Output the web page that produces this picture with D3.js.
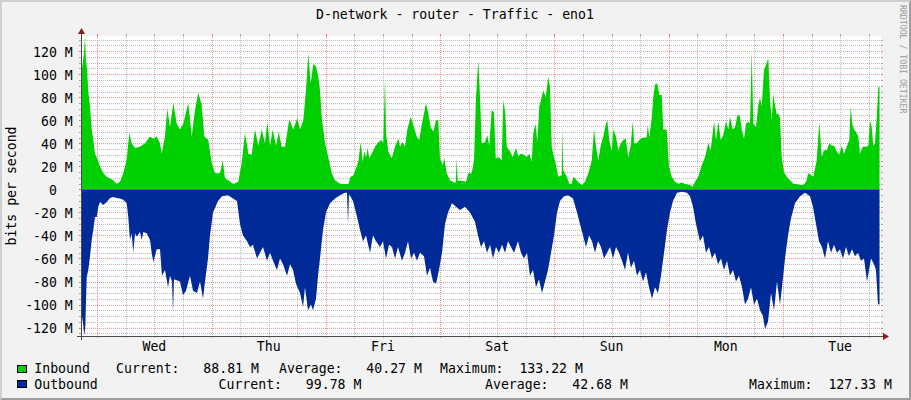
<!DOCTYPE html>
<html><head><meta charset="utf-8">
<script src="https://cdn.jsdelivr.net/npm/d3@7"></script>
<style>
html,body{margin:0;padding:0;background:#F2F2F2;}
svg{display:block;}
text{font-family:"DejaVu Sans Mono",monospace;white-space:pre;}
</style>
</head><body>
<svg id="c" width="911" height="400"></svg>
<script>
// ---------- data ----------
const title = "D-network - router - Traffic - eno1";
const yAxisTitle = "bits per second";
const watermark = "RRDTOOL / TOBI OETIKER";
const dayLabels = ["Wed","Thu","Fri","Sat","Sun","Mon","Tue"];
const yTickValues = [-120,-100,-80,-60,-40,-20,0,20,40,60,80,100,120];
const yTickLabels = ["-120 M","-100 M","-80 M","-60 M","-40 M","-20 M","0","20 M","40 M","60 M","80 M","100 M","120 M"];
const seriesNames = ["Inbound","Outbound"];
const seriesColors = ["#00CF00","#002A97"];
const statLabels = ["Current:","Average:","Maximum:"];
const inboundStats = [88.81, 40.27, 133.22];
const outboundStats = [99.78, 42.68, 127.33];
// [hours since Tue 20:35, Mbit/s]
const inbound = [[0,89],[0.21,105],[0.42,112],[0.63,118],[0.84,133],[1.05,112],[1.26,105],[1.53,85],[1.89,72],[2.25,52],[2.58,43],[2.94,31],[3.30,28],[3.63,24],[3.99,20],[4.68,14],[5.40,11],[6.09,9.5],[6.78,8],[7.50,5],[8.19,6.7],[8.88,14],[9.60,26],[10.14,49],[10.65,40],[11.34,36],[12.39,37],[13.44,40],[14.49,46],[15.18,44],[15.90,46],[16.59,40],[16.95,31],[17.64,46],[18.12,70],[18.69,54],[19.38,75],[20.10,57],[20.79,52],[21.48,57],[22.53,75],[23.25,46],[23.94,69],[24.63,84],[25.35,73],[25.89,46],[26.73,43],[27.45,23],[28.14,14],[29.19,14],[29.76,25],[30.24,9.5],[30.93,8],[31.98,4.6],[33.03,6.7],[33.75,23],[34.44,49],[35.13,31],[35.85,30],[36.54,52],[37.23,38],[37.95,52],[38.64,40],[39.12,59],[39.69,38],[40.26,52],[40.95,38],[41.52,50],[42.15,37],[42.84,37],[43.74,61],[44.58,52],[45.42,62],[45.99,52],[46.68,60],[47.25,86],[47.73,118],[48.24,92],[48.78,109],[49.35,107],[49.83,98],[50.19,86],[50.55,63],[51.24,40],[51.93,28],[52.65,14],[53.34,8],[54.39,5],[55.44,4.6],[56.2,5],[56.6,11],[57.18,12],[57.90,20],[58.23,24],[58.74,41],[59.16,24],[59.49,33],[59.85,28],[60.21,36],[60.54,27],[61.05,31],[61.74,37],[62.43,41],[63.15,43],[63.48,40],[63.84,96],[64.05,49],[64.53,33],[65.25,27],[65.94,37],[66.63,44],[66.99,37],[67.56,41],[68.04,37],[68.52,52],[69.24,63],[69.78,56],[70.50,46],[71.04,43],[71.55,56],[72.03,66],[72.45,75],[72.93,66],[73.44,54],[73.98,50],[74.55,60],[75.03,60],[75.39,27],[75.96,21],[76.29,27],[76.80,14],[77.49,8],[78.33,6],[78.70,6],[78.90,27],[79.10,7.5],[79.95,7.5],[80.85,6.7],[81.33,14],[82.05,14],[82.53,25],[82.95,80],[83.43,112],[83.79,80],[84.15,40],[84.84,41],[85.32,47],[85.74,38],[86.25,69],[86.73,67],[87.09,27],[87.78,28],[88.35,25],[88.68,78],[89.10,66],[89.40,37],[90.09,33],[90.66,28],[91.35,36],[91.83,29],[92.34,31],[93.03,30],[93.60,28],[94.14,31],[94.65,24],[94.98,49],[95.49,57],[95.82,41],[96.24,72],[96.75,80],[97.08,86],[97.59,80],[98.13,98],[98.49,89],[98.85,37],[99.33,28],[99.75,21],[100.23,11],[100.74,12],[100.95,12],[101.07,54],[101.25,17],[102.00,11],[102.54,5],[103.05,5],[103.38,11],[104.10,8],[104.79,5],[105.27,3.8],[105.84,6.7],[106.53,14],[107.25,25],[107.73,52],[108.15,37],[108.63,25],[109.14,38],[109.68,46],[110.25,57],[110.52,60],[110.94,43],[111.45,33],[111.78,52],[112.35,46],[112.83,34],[113.34,40],[113.88,43],[114.39,44],[114.93,28],[115.44,38],[115.86,59],[116.19,40],[116.70,40],[117.24,43],[117.96,45],[118.80,45],[119.01,56],[119.34,45],[119.85,62],[120.18,80],[120.54,91],[121.02,92],[121.44,82],[121.95,82],[122.28,52],[122.99,52],[123.48,20],[124.05,11],[124.74,6.7],[125.43,5],[126.15,6],[126.84,4.6],[127.89,3.8],[128.46,2.3],[128.94,6.7],[129.63,11],[130.35,21],[131.04,28],[131.73,40],[132.24,34],[132.93,59],[133.35,43],[133.83,59],[134.34,43],[134.88,47],[135.45,59],[135.93,52],[136.29,63],[136.86,52],[137.34,54],[137.91,65],[138.39,63],[138.75,52],[139.23,44],[139.65,57],[140.13,59],[140.49,57],[140.85,120],[141.18,57],[141.75,54],[142.23,73],[142.59,80],[142.95,72],[143.43,104],[143.85,108],[144.33,114],[144.69,78],[145.05,60],[145.38,83],[145.74,73],[146.10,65],[146.43,66],[146.79,62],[147.15,28],[147.63,15],[148.20,11],[148.89,8],[149.58,5],[150.30,4.6],[150.99,3.8],[151.68,3.8],[152.25,6.7],[152.73,14],[153.24,12.7],[153.78,11],[154.50,25],[155.04,59],[155.55,28],[156.03,34],[156.60,34],[157.14,40],[157.65,38],[158.13,38],[158.70,33],[159.24,30],[159.75,38],[160.23,31],[160.80,37],[161.34,43],[161.64,72],[161.97,57],[162.33,52],[162.75,50],[163.23,46],[163.59,31],[164.16,37],[164.85,37],[165.33,38],[165.69,60],[166.05,54],[166.38,38],[166.74,40],[167.10,62],[167.43,89],[167.69,88.81]];
const outbound = [[0,105],[0.21,110],[0.48,118],[0.69,127],[0.90,120],[1.20,76],[1.53,70],[1.89,58],[2.25,44],[2.58,35],[2.94,24],[3.30,24],[3.63,15],[3.99,11],[4.68,13.5],[5.40,11],[6.09,7.5],[6.78,6.6],[7.50,7.5],[8.19,8],[8.88,9],[9.60,12],[9.93,24],[10.29,44],[10.65,38],[10.98,55],[11.34,38],[11.70,41],[12.39,37],[12.75,44],[13.08,37],[13.80,38],[14.49,44],[14.85,55],[15.18,63],[15.90,52],[16.59,52],[17.01,75],[17.64,70],[18.27,85],[18.69,75],[19.11,80],[19.32,107],[19.53,78],[20.79,80],[21.42,92],[22.05,88],[22.89,75],[23.52,88],[24.36,90],[24.99,80],[25.62,95],[26.04,80],[26.67,60],[27.09,40],[27.72,20],[28.77,10],[29.61,6],[30.87,5],[31.92,8],[32.76,10],[33.39,30],[34.02,40],[34.86,45],[35.49,50],[36.12,48],[36.96,60],[37.59,55],[38.22,50],[39.06,62],[39.69,55],[40.32,62],[41.16,70],[41.79,60],[42.42,65],[43.26,75],[43.89,65],[44.52,70],[45.15,82],[45.99,90],[46.62,102],[47.04,85],[47.67,105],[48.30,100],[48.72,105],[49.35,95],[49.77,75],[50.19,60],[50.82,35],[51.45,20],[52.29,12],[53.34,8],[54.39,5],[55.44,3],[55.86,3],[56.07,30],[56.28,4],[57.12,10],[57.75,20],[58.59,35],[59.22,45],[59.85,40],[60.69,55],[61.32,40],[61.95,45],[62.79,50],[63.42,45],[64.05,60],[64.68,48],[65.31,50],[65.94,60],[66.57,50],[67.41,62],[68.04,55],[68.67,45],[69.30,60],[69.93,55],[70.56,62],[71.19,55],[72.03,58],[72.66,75],[73.29,68],[73.92,80],[74.55,82],[75.18,70],[75.81,55],[76.44,30],[77.07,20],[77.91,12],[78.75,15],[79.59,18],[80.64,15],[81.69,20],[82.74,28],[83.37,40],[84.00,50],[84.63,45],[85.26,55],[85.89,48],[86.52,60],[87.15,50],[87.78,55],[88.41,48],[89.04,55],[89.67,45],[90.30,50],[90.93,55],[91.77,45],[92.40,55],[93.03,60],[93.66,55],[94.29,75],[94.92,70],[95.55,85],[96.18,78],[96.81,90],[97.44,80],[98.07,70],[98.70,55],[99.33,40],[99.96,20],[100.59,10],[101.43,6],[102.27,5],[103.32,8],[104.16,20],[104.79,30],[105.42,40],[106.05,50],[106.68,40],[107.31,45],[107.94,55],[108.57,45],[109.20,50],[109.83,60],[110.46,55],[111.09,50],[111.72,60],[112.35,50],[112.98,55],[113.61,62],[114.24,70],[114.87,55],[115.50,68],[116.13,62],[116.76,75],[117.39,70],[118.02,80],[118.65,72],[119.28,85],[119.91,95],[120.54,85],[121.17,90],[121.80,75],[122.43,55],[123.06,35],[123.69,20],[124.32,10],[125.16,3],[126.21,2],[127.26,3],[127.89,6],[128.52,15],[129.15,30],[129.99,45],[130.62,40],[131.25,55],[131.88,50],[132.51,60],[133.14,55],[133.77,65],[134.40,60],[135.03,70],[135.66,62],[136.29,75],[136.92,70],[137.55,80],[138.18,75],[138.81,85],[139.44,100],[140.07,95],[140.70,85],[141.33,100],[141.96,95],[142.59,105],[143.22,110],[143.64,121],[144.27,115],[144.90,90],[145.53,105],[146.16,80],[146.79,100],[147.21,85],[147.84,60],[148.47,40],[149.10,25],[149.94,12],[150.99,6],[152.04,3],[153.09,6],[153.72,15],[154.35,30],[154.98,45],[155.61,50],[156.24,60],[156.87,45],[157.50,55],[158.13,48],[158.76,55],[159.39,52],[160.02,60],[160.65,50],[161.28,58],[161.91,52],[162.54,58],[163.17,55],[163.80,62],[164.43,60],[165.06,80],[165.48,70],[165.90,60],[166.53,65],[166.95,70],[167.37,100],[167.69,99.78]];

// ---------- layout ----------
const W = 911, H = 400;
const L = 81, R = 881, T = 36, B = 336;
const FONT = 13.2;
const start = new Date(2024, 0, 2, 20, 35);
const end = new Date(start.getTime() + 168 * 3600e3);
const tAt = h => new Date(start.getTime() + h * 3600e3);

const svg = d3.select("#c");
const x = d3.scaleTime().domain([start, end]).range([L, R]);
const y = d3.scaleLinear().domain([-outboundStats[2], inboundStats[2]]).range([B, T]);
const crisp = v => Math.round(v) + 0.5;

// background + 3d border
svg.append("rect").attr("width", W).attr("height", H).attr("fill", "#F2F2F2");
svg.append("path").attr("fill", "#CFCFCF")
  .attr("d", `M0,${H}L2,${H-2}L2,2L${W-2},2L${W},0L0,0Z`);
svg.append("path").attr("fill", "#9E9E9E")
  .attr("d", `M2,${H-2}L${W-2},${H-2}L${W-2},2L${W},0L${W},${H}L0,${H}Z`);

// canvas
svg.append("rect").attr("x", L).attr("y", T).attr("width", R - L).attr("height", B - T).attr("fill", "#FFFFFF");

const GRID = "rgba(143,143,143,0.6)", MGRID = "rgba(222,79,79,0.6)";
const g = svg.append("g");
// horizontal grid
d3.range(-125, 131, 5).forEach(v => {
  const yy = crisp(y(v));
  const col = v % 20 === 0 ? MGRID : GRID;
  g.append("line").attr("x1", L - 2).attr("x2", R + 2).attr("y1", yy).attr("y2", yy)
    .attr("stroke", col).attr("stroke-dasharray", "1,1").attr("shape-rendering", "crispEdges");
  g.append("line").attr("x1", L - 2).attr("x2", L).attr("y1", yy).attr("y2", yy).attr("stroke", col).attr("shape-rendering", "crispEdges");
  g.append("line").attr("x1", R).attr("x2", R + 2).attr("y1", yy).attr("y2", yy).attr("stroke", col).attr("shape-rendering", "crispEdges");
});
// vertical grid
d3.timeHour.every(6).range(start, end).forEach(t => {
  const xx = crisp(x(t));
  const col = t.getHours() === 0 ? MGRID : GRID;
  g.append("line").attr("x1", xx).attr("x2", xx).attr("y1", T - 2).attr("y2", B + 2)
    .attr("stroke", col).attr("stroke-dasharray", "1,1").attr("shape-rendering", "crispEdges");
  g.append("line").attr("x1", xx).attr("x2", xx).attr("y1", B).attr("y2", B + 2).attr("stroke", col).attr("shape-rendering", "crispEdges");
  g.append("line").attr("x1", xx).attr("x2", xx).attr("y1", T - 2).attr("y2", T).attr("stroke", col).attr("shape-rendering", "crispEdges");
});

// areas
const inArea = d3.area().x(d => x(tAt(d[0]))).y0(y(0)).y1(d => y(d[1]));
const outArea = d3.area().x(d => x(tAt(d[0]))).y0(y(0)).y1(d => y(-d[1]));
svg.append("path").datum(inbound).attr("d", inArea).attr("fill", seriesColors[0]);
svg.append("path").datum(outbound).attr("d", outArea).attr("fill", seriesColors[1]);

// axes
const AX = "#4a4a4a", ARROW = "#801F1F";
svg.append("line").attr("x1", L - 4).attr("x2", R + 4).attr("y1", B + 0.5).attr("y2", B + 0.5).attr("stroke", AX);
svg.append("line").attr("x1", L + 0.5).attr("x2", L + 0.5).attr("y1", B + 4).attr("y2", T - 4).attr("stroke", AX);
svg.append("path").attr("fill", ARROW).attr("d", `M${R+2},${B-3}L${R+2},${B+4}L${R+8},${B+0.5}Z`);
svg.append("path").attr("fill", ARROW).attr("d", `M${L-3},${T-2}L${L+4},${T-2}L${L+0.5},${T-8}Z`);

// y tick labels
const charW = FONT * 0.602;
yTickValues.forEach((v, i) => {
  const lab = yTickLabels[i];
  const hasUnit = lab.endsWith("M");
  svg.append("text").attr("x", hasUnit ? 72.8 : 72.8 - 2 * charW).attr("y", y(v) + 5.3)
    .attr("text-anchor", "end").attr("font-size", FONT).attr("fill", "#000").text(lab);
});

// x day labels at noon
d3.timeDay.range(d3.timeDay.ceil(start), end).forEach((d, i) => {
  const noon = d3.timeHour.offset(d, 12);
  if (i < dayLabels.length && noon < end)
    svg.append("text").attr("x", x(noon)).attr("y", 350.8).attr("text-anchor", "middle")
      .attr("font-size", FONT).attr("fill", "#000").text(dayLabels[i]);
});

// title
svg.append("text").attr("x", 455).attr("y", 19.3).attr("text-anchor", "middle")
  .attr("font-size", FONT).attr("fill", "#000").text(title);
// y axis title
svg.append("text").attr("transform", "translate(16,186) rotate(-90)").attr("text-anchor", "middle")
  .attr("font-size", FONT).attr("fill", "#000").text(yAxisTitle);
// watermark
svg.append("text").attr("transform", "translate(900,5) rotate(90)").attr("text-anchor", "start")
  .attr("font-size", 8.2).attr("fill", "#9B9B9B").text(watermark);

// legend
const fmt = (lab, v) => lab + v.toFixed(2).padStart(8) + " M";
const legendRows = [
  {name: seriesNames[0], color: seriesColors[0], stats: inboundStats, base: 372.7, box: 365.5, xs: [116, 279, 440]},
  {name: seriesNames[1], color: seriesColors[1], stats: outboundStats, base: 388.5, box: 380.5, xs: [218.5, 485, 749]}
];
legendRows.forEach(r => {
  svg.append("rect").attr("x", 17.5).attr("y", r.box).attr("width", 9).attr("height", 7)
    .attr("fill", r.color).attr("stroke", "#000").attr("stroke-width", 1);
  svg.append("text").attr("x", 34.3).attr("y", r.base).attr("font-size", FONT).attr("fill", "#000").text(r.name);
  r.stats.forEach((v, k) => {
    svg.append("text").attr("x", r.xs[k]).attr("y", r.base).attr("font-size", FONT).attr("fill", "#000")
      .text(fmt(statLabels[k], v));
  });
});
</script>
</body></html>
